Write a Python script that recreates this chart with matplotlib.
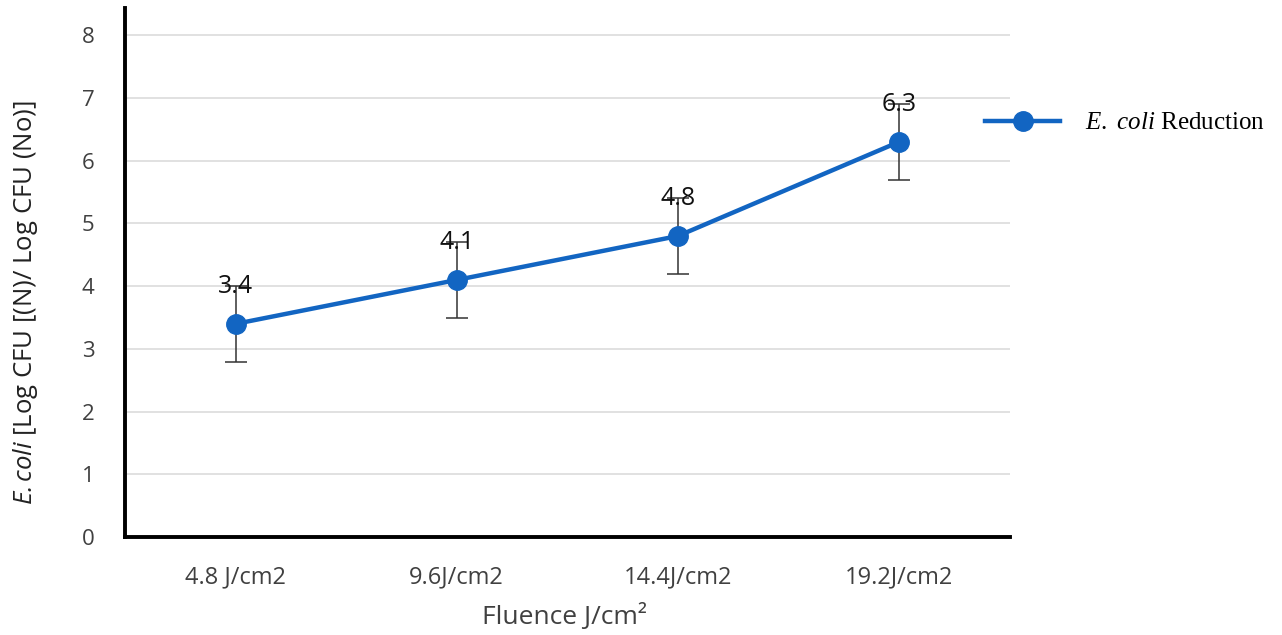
import matplotlib.pyplot as plt
from matplotlib.lines import Line2D

# data
fluence = ["4.8 J/cm2", "9.6J/cm2", "14.4J/cm2", "19.2J/cm2"]
reduction = [3.4, 4.1, 4.8, 6.3]
err = [0.6, 0.6, 0.6, 0.6]
yticks = [0, 1, 2, 3, 4, 5, 6, 7, 8]

plt.rcParams['mathtext.fontset'] = 'custom'
plt.rcParams['mathtext.it'] = 'Liberation Serif:italic'
plt.rcParams['mathtext.sf'] = 'Open Sans:italic'
plt.rcParams['mathtext.rm'] = 'Liberation Serif'

blue = "#1265c2"
grey_txt = "#404040"
sans = 'Open Sans'

fig = plt.figure(figsize=(12.82, 6.35), dpi=100)
ax = fig.add_axes([0.0975, 0.154, 0.69, 0.833])

x = list(range(len(fluence)))
ax.errorbar(x, reduction, yerr=err, fmt='none', ecolor="#333333",
            elinewidth=1.1, capsize=8, capthick=1.1, zorder=2)
ax.plot(x, reduction, color=blue, lw=3.2, marker='o', markersize=14, zorder=3)

# value labels above each point
for xi, v in zip(x, reduction):
    ax.text(xi, v + 0.6, str(v), ha='center', va='center', fontsize=18,
            family=sans, color='#111111', zorder=4)

ax.set_xlim(-0.5, len(fluence) - 0.5)
ax.set_ylim(0, 8.43)
ax.set_yticks(yticks)
ax.set_xticks(x)
ax.set_xticklabels(fluence)
ax.grid(axis='y', color='#d9d9d9', lw=1.1)
ax.set_axisbelow(True)

for s in ['top', 'right']:
    ax.spines[s].set_visible(False)
for s in ['left', 'bottom']:
    ax.spines[s].set_linewidth(2.8)
    ax.spines[s].set_color('black')

ax.tick_params(length=0, colors=grey_txt)
ax.tick_params(axis='y', pad=22, labelsize=16)
ax.tick_params(axis='x', pad=20, labelsize=17)
for lab in ax.get_xticklabels() + ax.get_yticklabels():
    lab.set_family(sans)

ax.set_xlabel("Fluence J/cm²", fontsize=19, family=sans, color=grey_txt)
ax.xaxis.set_label_coords(0.497, -0.124)
ax.set_ylabel(r"$\mathsf{E.coli}$ [Log CFU [(N)/ Log CFU (No)]", fontsize=18.5,
              family=sans, color='#222222')
ax.yaxis.set_label_coords(-0.096, 0.444)

# legend on the right
h = Line2D([], [], color=blue, lw=3.2, marker='o', markersize=14)
leg = fig.legend([h], [r"$\mathit{E.}$ $\mathit{coli}$ Reduction"], loc='center left',
                 bbox_to_anchor=(0.751, 0.806), frameon=False, handlelength=3.0,
                 handletextpad=1.0, prop={'family': 'Liberation Serif', 'size': 18})

fig.savefig("out.png", dpi=100)
